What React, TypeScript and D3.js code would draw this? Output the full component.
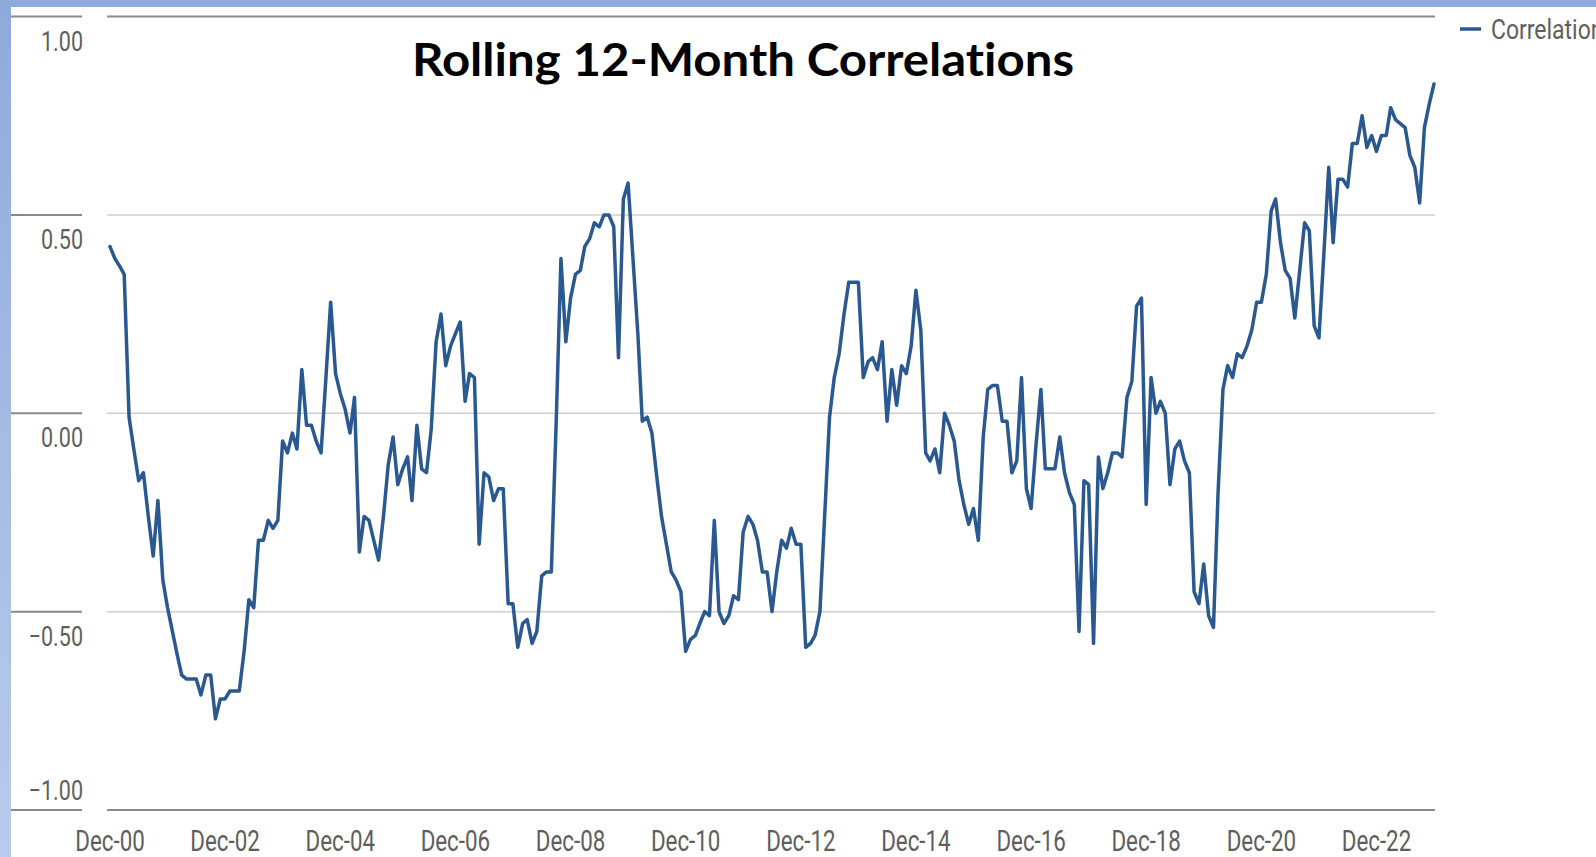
import React from 'react';
import * as d3 from 'd3';

// Monthly rolling 12-month correlation, Dec-2000 .. Dec-2023
const START_DATE = new Date(2000, 11, 1);
const correlation: number[] = [
  0.42, 0.39, 0.37, 0.35, -0.01, -0.09, -0.17, -0.15, -0.26, -0.36, -0.22, -0.42,
  -0.49, -0.55, -0.61, -0.66, -0.67, -0.67, -0.67, -0.71, -0.66, -0.66, -0.77, -0.72,
  -0.72, -0.70, -0.70, -0.70, -0.60, -0.47, -0.49, -0.32, -0.32, -0.27, -0.29, -0.27,
  -0.07, -0.10, -0.05, -0.09, 0.11, -0.03, -0.03, -0.07, -0.10, 0.09, 0.28, 0.10,
  0.05, 0.01, -0.05, 0.04, -0.35, -0.26, -0.27, -0.32, -0.37, -0.26, -0.13, -0.06,
  -0.18, -0.14, -0.11, -0.22, -0.03, -0.14, -0.15, -0.04, 0.18, 0.25, 0.12, 0.17,
  0.20, 0.23, 0.03, 0.10, 0.09, -0.33, -0.15, -0.16, -0.22, -0.19, -0.19, -0.48,
  -0.48, -0.59, -0.53, -0.52, -0.58, -0.55, -0.41, -0.40, -0.40, -0.02, 0.39, 0.18,
  0.29, 0.35, 0.36, 0.42, 0.44, 0.48, 0.47, 0.50, 0.50, 0.47, 0.14, 0.54,
  0.58, 0.39, 0.20, -0.02, -0.01, -0.05, -0.16, -0.26, -0.33, -0.40, -0.42, -0.45,
  -0.60, -0.57, -0.56, -0.53, -0.50, -0.51, -0.27, -0.50, -0.53, -0.51, -0.46, -0.47,
  -0.30, -0.26, -0.28, -0.32, -0.40, -0.40, -0.50, -0.40, -0.32, -0.34, -0.29, -0.33,
  -0.33, -0.59, -0.58, -0.56, -0.50, -0.26, -0.01, 0.09, 0.15, 0.25, 0.33, 0.33,
  0.33, 0.09, 0.13, 0.14, 0.11, 0.18, -0.02, 0.11, 0.02, 0.12, 0.10, 0.17,
  0.31, 0.21, -0.10, -0.12, -0.09, -0.15, 0.00, -0.03, -0.07, -0.17, -0.23, -0.28,
  -0.24, -0.32, -0.06, 0.06, 0.07, 0.07, -0.02, -0.02, -0.15, -0.12, 0.09, -0.19,
  -0.24, -0.08, 0.06, -0.14, -0.14, -0.14, -0.06, -0.15, -0.20, -0.23, -0.55, -0.17,
  -0.18, -0.58, -0.11, -0.19, -0.15, -0.10, -0.10, -0.11, 0.04, 0.08, 0.27, 0.29,
  -0.23, 0.09, 0.00, 0.03, 0.00, -0.18, -0.09, -0.07, -0.12, -0.15, -0.45, -0.48,
  -0.38, -0.51, -0.54, -0.20, 0.06, 0.12, 0.09, 0.15, 0.14, 0.17, 0.21, 0.28,
  0.28, 0.35, 0.51, 0.54, 0.43, 0.36, 0.34, 0.24, 0.36, 0.48, 0.46, 0.22,
  0.19, 0.40, 0.62, 0.43, 0.59, 0.59, 0.57, 0.68, 0.68, 0.75, 0.67, 0.70,
  0.66, 0.70, 0.70, 0.77, 0.74, 0.73, 0.72, 0.65, 0.62, 0.53, 0.72, 0.78,
  0.83,
];

const xTickYears = [2000, 2002, 2004, 2006, 2008, 2010, 2012, 2014, 2016, 2018, 2020, 2022];
const yTicks = [1, 0.5, 0, -0.5, -1];
const TITLE = 'Rolling 12-Month Correlations';
const SERIES_NAME = 'Correlation';

const W = 1596;
const H = 857;
const LINE_COLOR = '#2a5890';
const LABEL_COLOR = '#5e5e5e';
const SX = 0.77; // condensed look

export default function App() {
  const dates = correlation.map((_, i) => d3.timeMonth.offset(START_DATE, i));
  const x = d3
    .scaleTime()
    .domain([dates[0], dates[dates.length - 1]])
    .range([110, 1434]);
  const y = d3.scaleLinear().domain([-1, 1]).range([810, 16.5]);

  const linePath = d3
    .line<number>()
    .x((_, i) => x(dates[i]))
    .y((d) => y(d))(correlation) as string;

  const fmtY = (v: number) => (v < 0 ? '\u2212' : '') + Math.abs(v).toFixed(2);

  return (
    <svg
      width={W}
      height={H}
      style={{ position: 'absolute', left: 0, top: 0, display: 'block', background: '#fff' }}
    >
      <defs>
        <linearGradient id="leftBar" x1="0" y1="0" x2="0" y2="1">
          <stop offset="0" stopColor="#8eaadb" />
          <stop offset="1" stopColor="#b9cbec" />
        </linearGradient>
      </defs>
      <rect x={0} y={0} width={W} height={H} fill="#ffffff" />
      {/* frame bands */}
      <rect x={0} y={0} width={W} height={7} fill="#8eaadb" />
      <rect x={0} y={0} width={11} height={H} fill="url(#leftBar)" />

      {/* gridlines */}
      {yTicks.map((t) => {
        const yy = y(t);
        const edge = t === 1 || t === -1;
        return (
          <g key={'g' + t}>
            <line x1={11} x2={82} y1={yy} y2={yy} stroke="#8a8a8a" strokeWidth={2} />
            <line
              x1={107}
              x2={1435}
              y1={yy}
              y2={yy}
              stroke={edge ? '#8a8a8a' : '#cfcfcf'}
              strokeWidth={edge ? 2 : 1.5}
            />
          </g>
        );
      })}

      {/* y tick labels */}
      {yTicks.map((t) => {
        const yy = t === -1 ? y(t) - 10 : y(t) + 34;
        return (
          <text
            key={'yl' + t}
            transform={`translate(83,${yy}) scale(${SX},1)`}
            textAnchor="end"
            fontFamily="Roboto, 'DejaVu Sans', sans-serif"
            fontSize={28}
            fill={LABEL_COLOR}
          >
            {fmtY(t)}
          </text>
        );
      })}

      {/* x tick labels */}
      {xTickYears.map((yr) => {
        const d = new Date(yr, 11, 1);
        const label = 'Dec-' + String(yr % 100).padStart(2, '0');
        return (
          <text
            key={'xl' + yr}
            transform={`translate(${x(d)},851) scale(${SX},1)`}
            textAnchor="middle"
            fontFamily="Roboto, 'DejaVu Sans', sans-serif"
            fontSize={29}
            fill={LABEL_COLOR}
          >
            {label}
          </text>
        );
      })}

      {/* series */}
      <path
        d={linePath}
        fill="none"
        stroke={LINE_COLOR}
        strokeWidth={3.5}
        strokeLinejoin="round"
        strokeLinecap="round"
      />

      {/* title */}
      <text
        x={743}
        y={76}
        textAnchor="middle"
        fontFamily="Lato, 'Liberation Sans', sans-serif"
        fontWeight={700}
        fontSize={46}
        textLength={662}
        lengthAdjust="spacingAndGlyphs"
        fill="#000"
        style={{ fontVariantLigatures: 'none', fontFeatureSettings: '"liga" 0' }}
      >
        {TITLE}
      </text>

      {/* legend */}
      <line x1={1460} x2={1481} y1={29} y2={29} stroke={LINE_COLOR} strokeWidth={3.5} />
      <text
        transform={`translate(1491,39) scale(0.82,1)`}
        fontFamily="Roboto, 'DejaVu Sans', sans-serif"
        fontSize={28}
        fill={LABEL_COLOR}
      >
        {SERIES_NAME}
      </text>
    </svg>
  );
}
